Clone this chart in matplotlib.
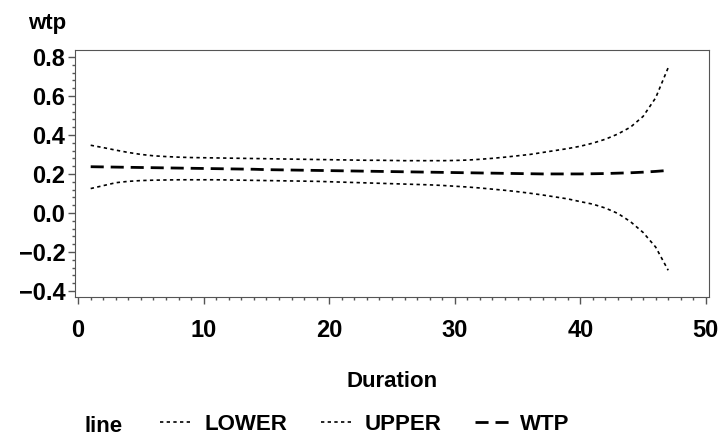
import numpy as np
import matplotlib
matplotlib.use('Agg')
import matplotlib.pyplot as plt
from matplotlib.ticker import MultipleLocator

plt.rcParams['font.family'] = ['Liberation Sans', 'DejaVu Sans']
plt.rcParams['font.weight'] = 'bold'

duration = list(range(1, 48))

lower = [0.125, 0.140, 0.155, 0.162, 0.166, 0.168, 0.169, 0.170, 0.170, 0.170,
         0.170, 0.169, 0.168, 0.167, 0.166, 0.165, 0.164, 0.163, 0.162, 0.160,
         0.158, 0.156, 0.154, 0.152, 0.150, 0.148, 0.146, 0.144, 0.141, 0.137,
         0.133, 0.128, 0.122, 0.116, 0.109, 0.101, 0.092, 0.082, 0.072, 0.058,
         0.045, 0.025, -0.003, -0.045, -0.100, -0.175, -0.294]

upper = [0.347, 0.335, 0.322, 0.310, 0.300, 0.293, 0.289, 0.286, 0.284, 0.283,
         0.282, 0.281, 0.280, 0.279, 0.278, 0.277, 0.276, 0.275, 0.274, 0.273,
         0.272, 0.271, 0.270, 0.270, 0.269, 0.268, 0.268, 0.268, 0.268, 0.269,
         0.271, 0.275, 0.280, 0.286, 0.293, 0.300, 0.310, 0.320, 0.330, 0.342,
         0.358, 0.378, 0.405, 0.440, 0.495, 0.590, 0.745]

wtp = [0.237, 0.236, 0.235, 0.234, 0.233, 0.232, 0.231, 0.230, 0.229, 0.228,
       0.227, 0.226, 0.225, 0.224, 0.222, 0.221, 0.220, 0.219, 0.218, 0.217,
       0.216, 0.215, 0.214, 0.213, 0.212, 0.211, 0.210, 0.209, 0.208, 0.207,
       0.206, 0.205, 0.204, 0.203, 0.202, 0.201, 0.200, 0.200, 0.200, 0.200,
       0.201, 0.202, 0.204, 0.206, 0.209, 0.213, 0.218]

fig = plt.figure(figsize=(7.22, 4.37), dpi=100)
ax = fig.add_axes([75 / 722, 1 - 297 / 437, 634 / 722, 247.5 / 437])

dot = (0, (2, 2))
l1, = ax.plot(duration, lower, color='black', lw=1.2, linestyle=dot, label='LOWER')
l2, = ax.plot(duration, upper, color='black', lw=1.2, linestyle=dot, label='UPPER')
l3, = ax.plot(duration, wtp, color='black', lw=2.0, linestyle=(0, (4.7, 2.5)), label='WTP')

ax.set_xlim(-0.25, 50.25)
ax.set_ylim(-0.431, 0.838)
ax.xaxis.set_major_locator(MultipleLocator(10))
ax.xaxis.set_minor_locator(MultipleLocator(1))
ax.yaxis.set_major_locator(MultipleLocator(0.2))
ax.yaxis.set_minor_locator(MultipleLocator(0.04))
ax.yaxis.set_major_formatter(plt.FuncFormatter(
    lambda v, p: '0.0' if abs(v) < 1e-9 else f'{v:.1f}'.replace('-', '\u2212')))
ax.tick_params(which='major', length=5, width=1, color='#555555', labelsize=17)
ax.tick_params(which='minor', length=2.2, width=1, color='#555555')
ax.tick_params(axis='x', pad=11)
ax.tick_params(axis='y', pad=2)
for s in ax.spines.values():
    s.set_color('#555555')
for lab in ax.get_xticklabels() + ax.get_yticklabels():
    lab.set_fontweight('bold')

fig.text(28 / 722, 1 - 29 / 437, 'wtp', fontsize=16, fontweight='bold', va='baseline')
fig.text(392 / 722, 1 - 387 / 437, 'Duration', fontsize=16, fontweight='bold',
         ha='center', va='baseline')
fig.text(85 / 722, 1 - 432 / 437, 'line', fontsize=16, fontweight='bold', va='baseline')
fig.legend(handles=[l1, l2, l3], loc='center left', bbox_to_anchor=(160 / 722, 1 - 424 / 437),
           ncol=3, frameon=False, fontsize=16, handlelength=1.5, handletextpad=0.5,
           columnspacing=1.5, borderaxespad=0, borderpad=0)

fig.savefig('out.png', dpi=100)
